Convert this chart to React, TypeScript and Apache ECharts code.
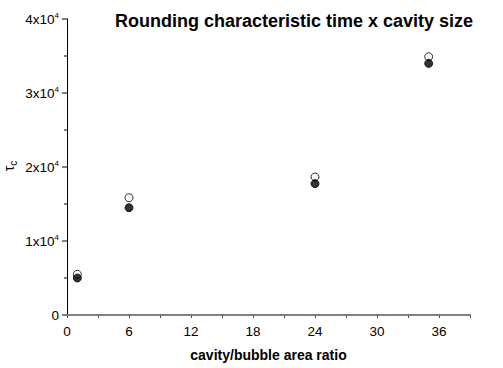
import React, { useEffect, useRef } from "react";
import * as echarts from "echarts";

const titleText = "Rounding characteristic time x cavity size";
const xName = "cavity/bubble area ratio";
const xValues = [1, 6, 24, 35];
const openValues = [5500, 15850, 18650, 34900];
const filledValues = [5000, 14500, 17750, 34000];
const xTickLabels = ["0", "6", "12", "18", "24", "30", "36"];

const FONT = "'Liberation Sans', Arial, sans-serif";

export default function App() {
  const ref = useRef<HTMLDivElement>(null);
  useEffect(() => {
    if (!ref.current) return;
    const chart = echarts.init(ref.current, null, { renderer: "svg" });
    chart.setOption({
      animation: false,
      backgroundColor: "#fff",
      title: {
        text: titleText,
        left: 289,
        textAlign: "center",
        top: 7,
        textStyle: { fontFamily: FONT, fontWeight: "bold", fontSize: 18, color: "#000" },
      },
      grid: { left: 67, top: 19, right: 33, bottom: 53, outerBoundsMode: "none", containLabel: false },
      xAxis: {
        type: "value",
        min: 0,
        max: 39,
        interval: 3,
        name: xName,
        nameLocation: "middle",
        nameGap: 33,
        nameTextStyle: { fontFamily: FONT, fontWeight: "bold", fontSize: 14, color: "#000" },
        axisLine: { show: true, onZero: false, lineStyle: { color: "#808080", width: 2 } },
        axisTick: { show: true, length: 3, lineStyle: { color: "#555", width: 1 } },
        axisLabel: {
          fontFamily: FONT,
          fontSize: 13.5,
          color: "#000",
          margin: 9,
          formatter: (v: number) => (xTickLabels.includes(String(v)) ? String(v) : ""),
        },
        splitLine: { show: false },
      },
      yAxis: {
        type: "value",
        min: 0,
        max: 40000,
        interval: 10000,
        axisLine: { show: true, lineStyle: { color: "#000", width: 1 } },
        axisTick: { show: true, length: 5, lineStyle: { color: "#808080", width: 2 } },
        minorTick: { show: true, splitNumber: 2, length: 3, lineStyle: { color: "#808080", width: 2 } },
        axisLabel: {
          margin: 8,
          formatter: (v: number) => (v === 0 ? "{a|0}" : `{a|${v / 10000}x10}{s|4}`),
          rich: {
            a: { fontFamily: FONT, fontSize: 13.5, color: "#000" },
            s: { fontFamily: FONT, fontSize: 8, color: "#000", verticalAlign: "top", padding: [0, 0, 8, 0] },
          },
        },
        splitLine: { show: false },
        minorSplitLine: { show: false },
      },
      graphic: [
        {
          type: "text",
          x: 9,
          y: 166,
          rotation: Math.PI / 2,
          style: {
            text: "{t|τ}{c|c}",
            align: "center",
            verticalAlign: "middle",
            rich: {
              t: { fontFamily: FONT, fontSize: 14, fill: "#000" },
              c: { fontFamily: FONT, fontSize: 10, fill: "#000", padding: [8, 0, 0, 0] },
            },
          },
        },
      ],
      series: [
        {
          type: "scatter",
          data: xValues.map((x, i) => [x, openValues[i]]),
          symbol: "circle",
          symbolSize: 8,
          itemStyle: { color: "#fff", borderColor: "#000", borderWidth: 1 },
          z: 2,
        },
        {
          type: "scatter",
          data: xValues.map((x, i) => [x, filledValues[i]]),
          symbol: "circle",
          symbolSize: 8,
          itemStyle: { color: "#000", borderColor: "#000", borderWidth: 1 },
          z: 3,
        },
      ],
    });
    return () => chart.dispose();
  }, []);
  return <div ref={ref} style={{ width: 503, height: 368, position: "absolute", left: 0, top: 0 }} />;
}
